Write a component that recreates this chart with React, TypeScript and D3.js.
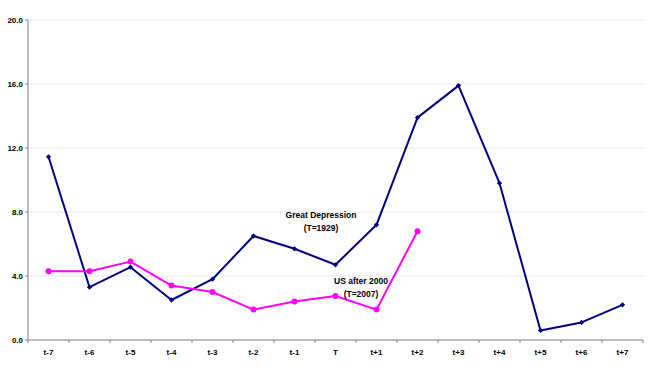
import React from "react";
import * as d3 from "d3";

const categories = ["t-7", "t-6", "t-5", "t-4", "t-3", "t-2", "t-1", "T", "t+1", "t+2", "t+3", "t+4", "t+5", "t+6", "t+7"];
const greatDepression = [11.45, 3.3, 4.55, 2.5, 3.8, 6.5, 5.7, 4.7, 7.2, 13.9, 15.9, 9.8, 0.6, 1.1, 2.2];
const usAfter2000 = [4.3, 4.3, 4.9, 3.4, 3.0, 1.9, 2.4, 2.75, 1.9, 6.8];
const yTicks = [0, 4, 8, 12, 16, 20];

const W = 648;
const H = 368;
const left = 28;
const right = 643;
const top = 20;
const bottom = 340;

export default function App() {
  const x = d3.scaleBand<string>().domain(categories).range([left, right]).padding(0);
  const y = d3.scaleLinear().domain([0, 20]).range([bottom, top]);
  const cx = (c: string) => (x(c) as number) + x.bandwidth() / 2;

  const line = d3
    .line<[string, number]>()
    .x((d) => cx(d[0]))
    .y((d) => y(d[1]));

  const gd: [string, number][] = greatDepression.map((v, i) => [categories[i], v]);
  const us: [string, number][] = usAfter2000.map((v, i) => [categories[i], v]);
  // square rotated 45° for the diamond markers
  const diamond = d3.symbol(d3.symbolSquare, 14)() as string;

  const font = "Arial, 'Liberation Sans', sans-serif";

  return (
    <svg width={W} height={H} style={{ position: "absolute", left: 0, top: 0, background: "#fff" }}>
      {yTicks.filter((t) => t > 0).map((t) => (
        <line key={"g" + t} x1={left} x2={right} y1={y(t)} y2={y(t)} stroke="#e8e8e8" strokeWidth={1} />
      ))}
      {/* y axis */}
      <line x1={left} x2={left} y1={top} y2={bottom} stroke="#7f7f7f" strokeWidth={1} />
      {yTicks.map((t) => (
        <g key={"y" + t}>
          <line x1={left - 3} x2={left} y1={y(t)} y2={y(t)} stroke="#7f7f7f" />
          <text x={left - 5} y={y(t)} dy="0.35em" textAnchor="end" fontFamily={font} fontSize={8} fontWeight="bold" fill="#000">
            {t.toFixed(1)}
          </text>
        </g>
      ))}
      {/* x axis */}
      <line x1={left} x2={right} y1={bottom} y2={bottom} stroke="#7f7f7f" strokeWidth={1} />
      {categories.map((c) => (
        <g key={"x" + c}>
          <line x1={(x(c) as number) + x.bandwidth()} x2={(x(c) as number) + x.bandwidth()} y1={bottom} y2={bottom + 3} stroke="#7f7f7f" />
          <text x={cx(c)} y={355} textAnchor="middle" fontFamily={font} fontSize={8} fontWeight="bold" fill="#000">
            {c}
          </text>
        </g>
      ))}
      <line x1={left} x2={left} y1={bottom} y2={bottom + 3} stroke="#7f7f7f" />

      {/* Great Depression series */}
      <path d={line(gd) as string} fill="none" stroke="#000080" strokeWidth={2} strokeLinejoin="round" />
      {gd.map((d, i) => (
        <path key={"gd" + i} d={diamond} transform={`translate(${cx(d[0])},${y(d[1])}) rotate(45)`} fill="#000080" />
      ))}

      {/* US after 2000 series */}
      <path d={line(us) as string} fill="none" stroke="#ff00ff" strokeWidth={2} strokeLinejoin="round" />
      {us.map((d, i) => (
        <circle key={"us" + i} cx={cx(d[0])} cy={y(d[1])} r={3} fill="#ff00ff" />
      ))}

      {/* labels */}
      <text x={321} y={218} textAnchor="middle" fontFamily={font} fontSize={8.5} fontWeight="bold" fill="#000">Great Depression</text>
      <text x={321} y={231} textAnchor="middle" fontFamily={font} fontSize={8.5} fontWeight="bold" fill="#000">(T=1929)</text>
      <text x={361} y={284} textAnchor="middle" fontFamily={font} fontSize={8.5} fontWeight="bold" fill="#000">US after 2000</text>
      <text x={361} y={297} textAnchor="middle" fontFamily={font} fontSize={8.5} fontWeight="bold" fill="#000">(T=2007)</text>
    </svg>
  );
}
